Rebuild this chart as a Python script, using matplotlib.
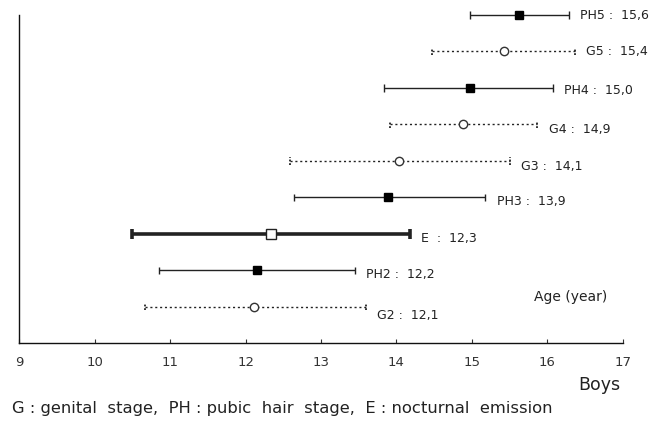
import matplotlib
matplotlib.use("Agg")
import matplotlib.pyplot as plt

matplotlib.rcParams.update({
    "font.family": ["DejaVu Sans"],
    "font.size": 9,
})

# ---------------------------------------------------------------------------
# Data (bottom to top): stage name, lower end, mean, upper end, kind
# ---------------------------------------------------------------------------
stages = ["G2", "PH2", "E", "PH3", "G3", "G4", "PH4", "G5", "PH5"]
mean_age = [12.1, 12.2, 12.3, 13.9, 14.1, 14.9, 15.0, 15.4, 15.6]
marker_x = [12.11, 12.15, 12.34, 13.89, 14.04, 14.88, 14.97, 15.42, 15.62]
low_age = [10.67, 10.85, 10.50, 12.64, 12.59, 13.92, 13.84, 14.47, 14.97]
high_age = [13.59, 13.45, 14.18, 15.18, 15.51, 15.87, 16.08, 16.37, 16.29]
kinds = ["G", "PH", "E", "PH", "G", "G", "PH", "G", "PH"]

x_ticks = [9, 10, 11, 12, 13, 14, 15, 16, 17]

# style per kind
STYLE = {
    "PH": dict(ls="-", lw=1.0, marker="s", ms=6, mfc="black", mec="black"),
    "G":  dict(ls=(0, (1.5, 2)), lw=1.0, marker="o", ms=6, mfc="white", mec="#333333"),
    "E":  dict(ls="-", lw=2.6, marker="s", ms=7, mfc="white", mec="#222222"),
}
LINE_COL = "#222222"
# small downward shift of the value labels (points)
label_dy = [-6, -3, -3, -3, -4, -4, -2, 0, 0]

fig = plt.figure(figsize=(6.58, 4.21), dpi=100)
ax = fig.add_axes([19.3 / 658, 1 - 343.3 / 421, (622.7 - 19.3) / 658, (343.3 - 15) / 421])

for i, (name, m, mx, lo, hi, k) in enumerate(zip(stages, mean_age, marker_x, low_age, high_age, kinds)):
    y = i + 1
    st = STYLE[k]
    ax.plot([lo, hi], [y, y], color=LINE_COL, ls=st["ls"], lw=st["lw"], zorder=2,
            solid_capstyle="butt", clip_on=False)
    cap_h = 0.1 if k != "E" else 0.13
    cap_ls = "-" if k != "G" else (0, (1, 1))
    cap_lw = 1.0 if k == "PH" else (2.6 if k == "E" else 1.3)
    for xc in (lo, hi):
        ax.plot([xc, xc], [y - cap_h, y + cap_h], color=LINE_COL, ls=cap_ls,
                lw=cap_lw, solid_capstyle="butt", zorder=2, clip_on=False)
    ax.plot([mx], [y], ls="none", marker=st["marker"], ms=st["ms"],
            mfc=st["mfc"], mec=st["mec"], mew=1.0, zorder=3, clip_on=False)
    sep = " :  " if k != "E" else "  :  "
    ax.annotate(f"{name}{sep}{m:.1f}".replace(".", ","), xy=(hi, y),
                xytext=(8, label_dy[i]), textcoords="offset points",
                ha="left", va="center", fontsize=9, color="#222222")

ax.set_xlim(9, 17)
ax.set_ylim(0, 9)
ax.set_xticks(x_ticks)
ax.set_xticklabels([str(t) for t in x_ticks])
ax.set_yticks([])
ax.tick_params(axis="x", direction="in", length=3, width=0.8, pad=9,
               labelsize=9.5, colors="#333333")
for side in ("top", "right"):
    ax.spines[side].set_visible(False)
for side in ("left", "bottom"):
    ax.spines[side].set_linewidth(1.0)
    ax.spines[side].set_color("#111111")

ax.text(0.975, 0.14, "Age (year)", transform=ax.transAxes, ha="right",
        va="center", fontsize=10, color="#222222")
fig.text(620 / 658, 1 - 385 / 421, "Boys", ha="right", va="center",
         fontsize=12.5, color="#222222")
fig.text(12 / 658, 1 - 408 / 421,
         "G : genital  stage,  PH : pubic  hair  stage,  E : nocturnal  emission",
         ha="left", va="center", fontsize=11.8, color="#222222")

fig.savefig("out.png", dpi=100)
